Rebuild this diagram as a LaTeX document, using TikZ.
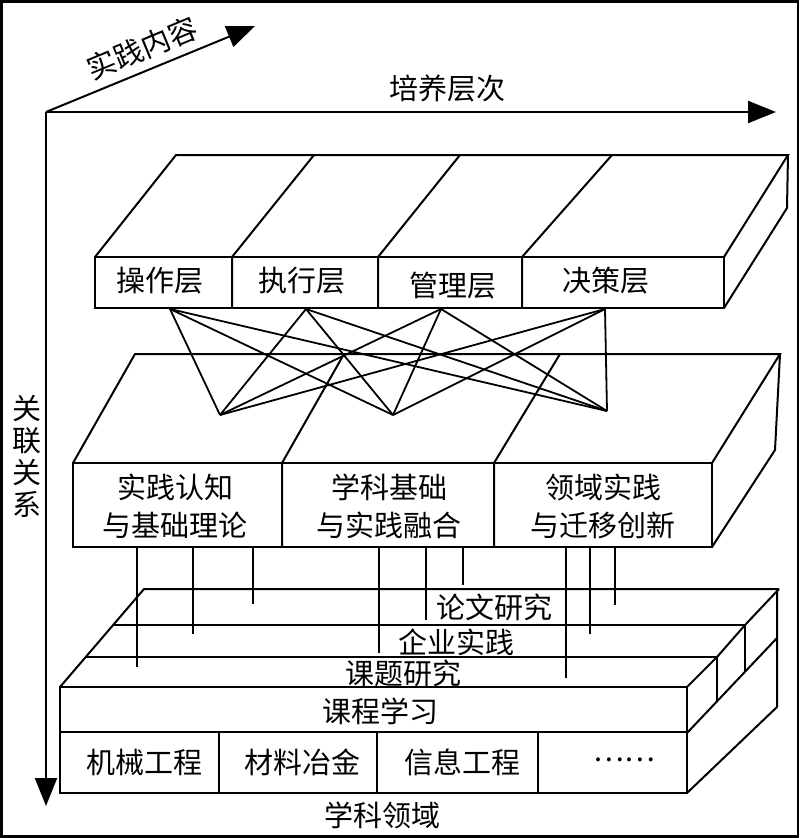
\documentclass[tikz,border=0pt]{standalone}
\usepackage{fontspec}
\setmainfont{Noto Sans CJK SC}
\usetikzlibrary{arrows.meta}
\begin{document}
\begin{tikzpicture}[x=1pt,y=-1pt,
  ln/.style={line width=2pt, line join=miter},
  lbl/.style={font=\fontsize{29}{38}\selectfont, inner sep=0pt, align=center},
  axis/.style={line width=2pt, -{Triangle[length=28pt,width=22pt]}}]
\useasboundingbox (0,0) rectangle (800,838);
\draw[line width=2.4pt] (1.5,1.5) rectangle (798,836.5);

% axes
\coordinate (O) at (46,112);
\coordinate (Xend) at (776,112);
\coordinate (Yend) at (46,806);
\coordinate (Zend) at (255,26);
\draw[axis] (O) -- (Xend);
\draw[axis] (O) -- (Yend);
\draw[axis] (O) -- (Zend);
\node[lbl, rotate=22.5] (zl) at (142,48) {实践内容};
\node[lbl] (xl) at (447,88) {培养层次};
\node[lbl, font=\fontsize{29}{32}\selectfont] (yl) at (27,456) {关\\联\\关\\系};

% ---------- top box ----------
\draw[ln] (95,257) rectangle (724,308);
\draw[ln] (95,257) -- (176,155) -- (788,155) -- (724,257);
\draw[ln] (788,155) -- (787,208) -- (724,308);
\draw[ln] (232,257) -- (232,308) (232,257) -- (314,155);
\draw[ln] (378,257) -- (378,308) (378,257) -- (460,155);
\draw[ln] (522,257) -- (522,308) (522,257) -- (612,155);
\node[lbl] (t1) at (160,281) {操作层};
\node[lbl] (t2) at (302,281) {执行层};
\node[lbl] (t3) at (453,286) {管理层};
\node[lbl] (t4) at (606,281) {决策层};

% ---------- middle box ----------
\draw[ln] (73,463) rectangle (712,547);
\draw[ln] (73,463) -- (135,354) -- (780,354) -- (712,463);
\draw[ln] (780,354) -- (775,450) -- (712,547);
\draw[ln] (282,463) -- (282,547) (282,463) -- (344,354);
\draw[ln] (494,463) -- (494,547) (494,463) -- (560,354);
\node[lbl] (m1) at (175,506) {实践认知\\与基础理论};
\node[lbl] (m2) at (389,506) {学科基础\\与实践融合};
\node[lbl] (m3) at (603,506) {领域实践\\与迁移创新};

% ---------- links between top and middle ----------
\coordinate (T1) at (170,309);
\coordinate (T2) at (306,309);
\coordinate (T3) at (441,309);
\coordinate (T4) at (605,309);
\coordinate (B1) at (220,415);
\coordinate (B2) at (393,415);
\coordinate (B3) at (607,411);
\foreach \a in {T1,T2,T3,T4}
  \foreach \b in {B1,B2,B3}
    \draw[line width=1.8pt] (\a) -- (\b);

% ---------- bottom box ----------
\draw[ln] (60,687) rectangle (687,793);
\draw[ln] (60,732) -- (687,732);
\draw[ln] (219,732) -- (219,793);
\draw[ln] (377,732) -- (377,793);
\draw[ln] (538,732) -- (538,793);
\draw[ln] (60,687) -- (144,589) -- (779,589);
\draw[ln] (113,625) -- (745,625);
\draw[ln] (86,657) -- (717,657);
\draw[ln] (779,589) -- (745,625) -- (717,657) -- (687,687);
\draw[ln] (777,589) -- (777,707) -- (687,793);
\draw[ln] (777,638) -- (687,733);
\draw[ln] (745,625) -- (745,671.8);
\draw[ln] (717,657) -- (717,701.3);
\node[lbl] (l4) at (494,607) {论文研究};
\node[lbl] (l3) at (456,642) {企业实践};
\node[lbl] (l2) at (403,673) {课题研究};
\node[lbl] (l1) at (380,711) {课程学习};
\node[lbl] (f1) at (144,762) {机械工程};
\node[lbl] (f2) at (302,762) {材料冶金};
\node[lbl] (f3) at (462,762) {信息工程};
\node[lbl] (f4) at (624,760) {……};
\node[lbl] (fl) at (382,815) {学科领域};

% ---------- drop lines from middle box ----------
\foreach \x/\y [count=\i] in {137/667,193/634,253/604,379/653,426/620,463/585,566/678,590/634,615/605}{
  \coordinate (d\i a) at (\x,547);
  \coordinate (d\i b) at (\x,\y);
  \draw[ln] (d\i a) -- (d\i b);
}
\end{tikzpicture}
\end{document}
